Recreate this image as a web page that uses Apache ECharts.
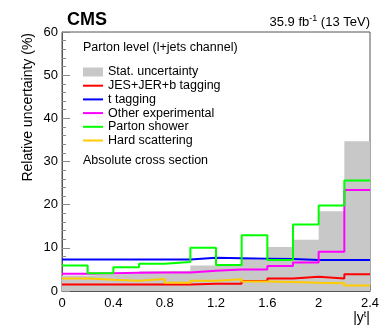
<!DOCTYPE html>
<html>
<head>
<meta charset="utf-8">
<script src="https://cdn.jsdelivr.net/npm/echarts@6/dist/echarts.min.js"></script>
<style>
html,body{margin:0;padding:0;background:#fff;}
#c{width:390px;height:331px;}
</style>
</head>
<body>
<div id="c"></div>
<script>
// bin edges in |y^t|
const binEdges = [0, 0.2, 0.4, 0.6, 0.8, 1.0, 1.2, 1.4, 1.6, 1.8, 2.0, 2.2, 2.4];
// relative uncertainties (%) per bin
const statUnc   = [3.6, 3.8, 4.0, 4.6, 4.7, 5.9, 6.3, 7.6, 10.2, 11.9, 18.5, 34.7];
const jesJerB   = [1.5, 1.5, 1.5, 1.5, 1.5, 1.7, 1.7, 2.3, 2.9, 3.3, 2.9, 3.9];
const tTagging  = [7.3, 7.3, 7.3, 7.3, 7.3, 7.7, 7.6, 7.5, 7.4, 7.2, 7.2, 7.2];
const otherExp  = [4.0, 4.1, 4.2, 4.3, 4.3, 4.7, 5.0, 5.0, 5.8, 6.6, 9.1, 23.4];
const partonSh  = [5.9, 4.1, 5.5, 6.3, 6.7, 10.0, 6.0, 12.9, 7.2, 15.4, 19.8, 25.6];
const hardScat  = [2.9, 2.6, 2.4, 2.8, 1.9, 2.4, 2.7, 2.2, 2.1, 1.9, 1.8, 1.3];
const xTickLabels = ['0', '0.4', '0.8', '1.2', '1.6', '2', '2.4'];
const yTickLabels = ['0', '10', '20', '30', '40', '50', '60'];

const seriesNames = ['Stat. uncertainty', 'JES+JER+b tagging', 't tagging', 'Other experimental', 'Parton shower', 'Hard scattering'];
const seriesColors = ['#c8c8c8', '#ff0000', '#0000ff', '#ff00ff', '#00ff00', '#ffcc00'];
const seriesValues = [statUnc, jesJerB, tTagging, otherExp, partonSh, hardScat];

function stepData(vals) {
  return binEdges.map((e, i) => [e, vals[Math.min(i, vals.length - 1)]]);
}

const FONT = '"Liberation Sans", Arial, Helvetica, sans-serif';
const chart = echarts.init(document.getElementById('c'), null, {renderer: 'canvas'});

const series = seriesValues.map((vals, k) => {
  const s = {
    name: seriesNames[k],
    type: 'line',
    step: 'end',
    symbol: 'none',
    animation: false,
    data: stepData(vals),
    lineStyle: {color: seriesColors[k], width: k === 0 ? 0 : 2},
    itemStyle: {color: seriesColors[k]},
    z: k === 0 ? 1 : 2 + k
  };
  if (k === 0) s.areaStyle = {color: seriesColors[0], opacity: 1};
  return s;
});

// legend drawn as graphic elements
const legendGraphics = [];
const legX = 83, legY0 = 72, legDy = 13.7;
seriesNames.forEach((n, k) => {
  const cy = legY0 + k * legDy;
  if (k === 0) {
    legendGraphics.push({type: 'rect', left: legX, top: cy - 4.5, shape: {width: 20, height: 9}, style: {fill: seriesColors[0]}});
  } else {
    legendGraphics.push({type: 'line', shape: {x1: legX, y1: cy, x2: legX + 20, y2: cy}, style: {stroke: seriesColors[k], lineWidth: 2}});
  }
  legendGraphics.push({type: 'text', x: legX + 25, y: cy, style: {text: n, font: '12.5px ' + FONT, fill: '#000', textVerticalAlign: 'middle', verticalAlign: 'middle'}});
});

chart.setOption({
  animation: false,
  grid: {left: 62, right: 20, top: 32, bottom: 40, show: true, borderColor: '#555', borderWidth: 1, backgroundColor: 'transparent'},
  xAxis: {
    type: 'value', min: 0, max: 2.4, interval: 0.4,
    axisLine: {show: true, lineStyle: {color: '#555', width: 1}},
    axisTick: {show: true, inside: true, length: 6, lineStyle: {color: '#888'}},
    minorTick: {show: true, splitNumber: 2, length: 4, lineStyle: {color: '#888'}},
    splitLine: {show: false},
    axisLabel: {margin: 6, fontFamily: FONT, fontSize: 13, color: '#000',
      formatter: (v) => { const i = Math.round(v / 0.4); return xTickLabels[i] !== undefined ? xTickLabels[i] : ''; }}
  },
  yAxis: {
    type: 'value', min: 0, max: 60, interval: 10,
    axisLine: {show: true, lineStyle: {color: '#555', width: 1}},
    axisTick: {show: true, inside: true, length: 8, lineStyle: {color: '#888'}},
    minorTick: {show: true, splitNumber: 5, length: 4, lineStyle: {color: '#888'}},
    splitLine: {show: false},
    axisLabel: {margin: 4, fontFamily: FONT, fontSize: 13, color: '#000',
      formatter: (v) => { const i = Math.round(v / 10); return yTickLabels[i] !== undefined ? yTickLabels[i] : ''; }}
  },
  series: series,
  graphic: [
    {type: 'text', x: 67, y: 20, style: {text: 'CMS', font: 'bold 18px ' + FONT, fill: '#000', verticalAlign: 'middle'}},
    {type: 'text', x: 370, y: 22, style: {
      text: '{a|35.9 fb}{s|-1}{a| (13 TeV)}', align: 'right', verticalAlign: 'middle',
      rich: {a: {font: '13px ' + FONT, fill: '#000', color: '#000'}, s: {font: '9px ' + FONT, color: '#000', verticalAlign: 'top', padding: [0, 0, 6, 0]}}
    }},
    {type: 'text', x: 83, y: 48, style: {text: 'Parton level (l+jets channel)', font: '12.5px ' + FONT, fill: '#000', verticalAlign: 'middle'}},
    {type: 'text', x: 83, y: 161, style: {text: 'Absolute cross section', font: '12.5px ' + FONT, fill: '#000', verticalAlign: 'middle'}},
    {type: 'text', x: 28, y: 33, rotation: Math.PI / 2, style: {text: 'Relative uncertainty (%)', font: '14px ' + FONT, fill: '#000', align: 'right', verticalAlign: 'middle'}},
    {type: 'text', x: 370, y: 318, style: {
      text: '{a||y}{s|t}{a||}', align: 'right', verticalAlign: 'middle',
      rich: {a: {font: '14px ' + FONT, color: '#000'}, s: {font: '9px ' + FONT, color: '#000', verticalAlign: 'top', padding: [0, 0, 6, 0]}}
    }}
  ].concat(legendGraphics)
});
</script>
</body>
</html>
